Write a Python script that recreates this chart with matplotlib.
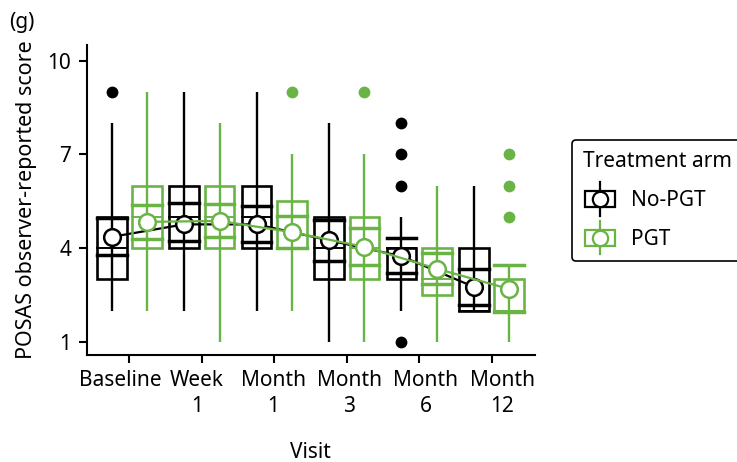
import numpy as np
import matplotlib
matplotlib.use("Agg")
import matplotlib.pyplot as plt
from matplotlib.patches import Rectangle
from matplotlib.lines import Line2D
from matplotlib.legend_handler import HandlerBase
from matplotlib.transforms import ScaledTranslation

plt.rcParams['font.family'] = ['Noto Sans', 'DejaVu Sans']

# Données
visits = ['Baseline', 'Week\n1', 'Month\n1', 'Month\n3', 'Month\n6', 'Month\n12']

# No-PGT
nopgt_q1 = [3, 4, 4, 3, 3, 2]
nopgt_med = [4, 5, 5, 4, 4, 2]
nopgt_q3 = [5, 6, 6, 5, 4, 4]
nopgt_wlo = [2, 2, 2, 1, 2, 2]
nopgt_whi = [8, 9, 9, 8, 5, 6]
nopgt_mean = [4.36, 4.76, 4.76, 4.25, 3.74, 2.76]
nopgt_cilo = [3.78, 4.22, 4.20, 3.60, 3.20, 2.19]
nopgt_cihi = [4.95, 5.43, 5.35, 4.90, 4.32, 3.32]
nopgt_out = [[9], [], [], [], [1, 6, 7, 8], []]

# PGT
pgt_q1 = [4, 4, 4, 3, 2.5, 2]
pgt_med = [5, 5, 5, 4, 3, 2]
pgt_q3 = [6, 6, 5.5, 5, 4, 3]
pgt_wlo = [2, 1, 2, 1, 1, 1]
pgt_whi = [9, 8, 7, 7, 6, 3]
pgt_mean = [4.84, 4.87, 4.51, 4.04, 3.34, 2.69]
pgt_cilo = [4.30, 4.36, 4.00, 3.47, 2.85, 1.95]
pgt_cihi = [5.38, 5.40, 5.03, 4.65, 3.84, 3.47]
pgt_out = [[], [], [9], [9], [], [5, 6, 7]]

black = 'black'
green = '#6ab446'
box_w = 0.41
offset = 0.245
fs = 15


def draw_group(ax, pos, q1, med, q3, wlo, whi, mean, cilo, cihi, outl, color, z):
    for i, x in enumerate(pos):
        # moustaches
        ax.plot([x, x], [min(wlo[i], cilo[i]), max(whi[i], cihi[i])],
                color=color, lw=1.7, zorder=z, solid_capstyle='butt')
        # boîte
        ax.add_patch(Rectangle((x - box_w / 2, q1[i]), box_w, q3[i] - q1[i],
                               fill=False, ec=color, lw=1.9, zorder=z))
        # médiane
        ax.plot([x - box_w / 2, x + box_w / 2], [med[i], med[i]],
                color=color, lw=1.4, zorder=z)
        # intervalle de confiance
        for v in (cilo[i], cihi[i]):
            ax.plot([x - box_w / 2, x + box_w / 2], [v, v],
                    color=color, lw=2.5, zorder=z)
        # valeurs aberrantes
        if outl[i]:
            ax.plot([x] * len(outl[i]), outl[i], 'o', color=color, ms=8.5,
                    mec='none', zorder=z)
    ax.plot(pos, mean, '-', color=color, lw=1.6, zorder=z + 1)
    ax.plot(pos, mean, 'o', ms=12, mfc='white', mec=color, mew=1.8,
            zorder=z + 2)


class BoxHandler(HandlerBase):
    def create_artists(self, legend, orig_handle, xdescent, ydescent,
                       width, height, fontsize, trans):
        c = orig_handle.get_color()
        cx = width / 2 - xdescent
        cy = height / 2 - ydescent
        bw, bh, vh = 22, 11.5, 24
        vline = Line2D([cx, cx], [cy - vh / 2, cy + vh / 2], color=c, lw=1.6,
                       transform=trans)
        rect = Rectangle((cx - bw / 2, cy - bh / 2), bw, bh, fill=False,
                         ec=c, lw=1.6, transform=trans)
        circ = Line2D([cx], [cy], marker='o', ms=11, mfc='white', mec=c,
                      mew=1.6, transform=trans)
        return [vline, rect, circ]


fig = plt.figure(figsize=(7.37, 4.62), dpi=100)
ax = fig.add_axes([0.1176, 0.2316, 0.6084, 0.671])

x = np.arange(len(visits))
draw_group(ax, x - offset, nopgt_q1, nopgt_med, nopgt_q3, nopgt_wlo, nopgt_whi,
           nopgt_mean, nopgt_cilo, nopgt_cihi, nopgt_out, black, 3)
draw_group(ax, x + offset, pgt_q1, pgt_med, pgt_q3, pgt_wlo, pgt_whi,
           pgt_mean, pgt_cilo, pgt_cihi, pgt_out, green, 6)

ax.set_xlim(-0.59, 5.6)
ax.set_ylim(0.58, 10.5)
ax.set_xticks(x)
ax.set_xticklabels(visits, fontsize=fs, linespacing=1.3)
ax.set_yticks([1, 4, 7, 10])
ax.set_yticklabels(['1', '4', '7', '10'], fontsize=fs)
ax.tick_params(width=1.5, length=6, pad=5)
# les étiquettes sont un peu plus espacées que les graduations
for i, lab in enumerate(ax.get_xticklabels()):
    dx = (-9.0 + 3.9 * i) / 100
    lab.set_transform(lab.get_transform() + ScaledTranslation(dx, 0, fig.dpi_scale_trans))
for s in ['top', 'right']:
    ax.spines[s].set_visible(False)
for s in ['left', 'bottom']:
    ax.spines[s].set_linewidth(1.5)
ax.set_xlabel('Visit', fontsize=fs, labelpad=18)
ax.set_ylabel('POSAS observer-reported score', fontsize=15.5, labelpad=8)

fig.text(0.013, 0.94, '(g)', fontsize=fs)

h1 = Line2D([], [], color=black)
h2 = Line2D([], [], color=green)
leg = fig.legend([h1, h2], ['No-PGT', 'PGT'], title='Treatment arm',
                 loc='upper left', bbox_to_anchor=(0.776, 0.697),
                 handler_map={Line2D: BoxHandler()}, fontsize=fs,
                 title_fontsize=fs, alignment='left', fancybox=True,
                 edgecolor='black', framealpha=1, handlelength=1.6,
                 handletextpad=0.7, labelspacing=0.85, borderpad=0.55,
                 borderaxespad=0)
leg.get_frame().set_linewidth(1.2)

fig.savefig('out.png', dpi=100)
